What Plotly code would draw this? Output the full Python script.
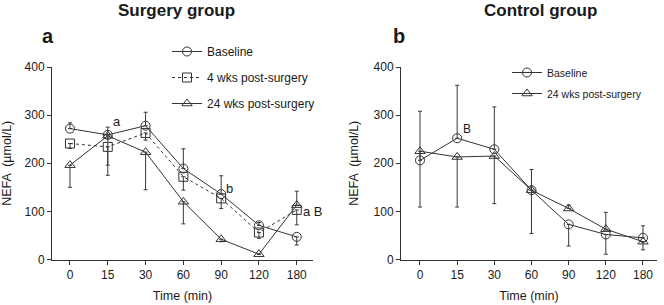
import plotly.graph_objects as go
from plotly.subplots import make_subplots

time_labels = ["0", "15", "30", "60", "90", "120", "180"]

# Surgery group (panel a)
s_base = [272, 259, 278, 189, 136, 71, 47]
s_base_up = [12, 16, 28, 41, 38, 6, 0]
s_base_dn = [0, 0, 0, 0, 0, 0, 17]

s_4wk = [241, 234, 263, 172, 127, 56, 103]
s_4wk_up = [0, 0, 0, 0, 0, 0, 0]
s_4wk_dn = [10, 38, 15, 28, 21, 12, 31]

s_24wk = [196, 257, 223, 120, 42, 11, 113]
s_24wk_up = [0, 0, 0, 0, 0, 0, 29]
s_24wk_dn = [46, 82, 78, 46, 5, 0, 0]

# Control group (panel b)
c_base = [206, 252, 229, 144, 73, 52, 45]
c_base_up = [102, 110, 88, 43, 0, 0, 25]
c_base_dn = [0, 0, 0, 0, 45, 41, 0]

c_24wk = [225, 213, 215, 144, 106, 63, 37]
c_24wk_up = [0, 0, 0, 0, 7, 35, 0]
c_24wk_dn = [116, 104, 99, 90, 0, 0, 17]

W, H = 664, 305
col = "#333333"
tcol = "#1a1a1a"
font = "Liberation Sans, Arial, sans-serif"

fig = make_subplots(rows=1, cols=2)
xi = list(range(len(time_labels)))


def add(y, up, dn, name, symbol, dash, c, legend):
    fig.add_trace(go.Scatter(
        x=xi, y=y, name=name, mode="lines+markers",
        line=dict(color=col, width=1, dash=dash),
        marker=dict(symbol=symbol, size=9, color=col, line=dict(width=1, color=col)),
        error_y=dict(type="data", symmetric=False, array=up, arrayminus=dn,
                     color="#3a3a3a", thickness=1, width=2),
        legend=legend, legendgroup=name + legend,
    ), row=1, col=c)


add(s_base, s_base_up, s_base_dn, "Baseline", "circle-open", "solid", 1, "legend")
add(s_4wk, s_4wk_up, s_4wk_dn, "4 wks post-surgery", "square-open", "dot", 1, "legend")
add(s_24wk, s_24wk_up, s_24wk_dn, "24 wks post-surgery", "triangle-up-open", "solid", 1, "legend")
add(c_base, c_base_up, c_base_dn, "Baseline", "circle-open", "solid", 2, "legend2")
add(c_24wk, c_24wk_up, c_24wk_dn, "24 wks post-surgery", "triangle-up-open", "solid", 2, "legend2")

ydom = [(H - 259.5) / H, (H - 67) / H]
axis_common = dict(showline=True, linecolor=col, linewidth=1, ticks="outside",
                   ticklen=4, tickcolor=col, showgrid=False, zeroline=False, automargin=False,
                   tickfont=dict(size=12, color=tcol, family=font))

fig.update_xaxes(**axis_common, tickvals=xi, ticktext=time_labels,
                 title=dict(text="Time (min)", font=dict(size=12.5, color=tcol, family=font), standoff=10))
fig.update_yaxes(**axis_common, range=[0, 400], tickvals=[0, 100, 200, 300, 400],
                 domain=ydom,
                 title=dict(text="NEFA  (µmol/L)", font=dict(size=12.5, color=tcol, family=font), standoff=12))
fig.update_xaxes(domain=[52 / W, 313 / W], range=[-0.476, 6.43], row=1, col=1)
fig.update_xaxes(domain=[401 / W, 657 / W], range=[-0.511, 6.377], row=1, col=2)

ann = []
def txt(x, y, t, xref, yref, size=12, bold=False, xanchor="left", xshift=0, yshift=0):
    ann.append(dict(x=x, y=y, text=("<b>%s</b>" % t) if bold else t, xref=xref, yref=yref,
                    showarrow=False, xanchor=xanchor, yanchor="middle", xshift=xshift, yshift=yshift,
                    font=dict(size=size, color=tcol, family=font)))

txt(176 / W, 1 - 11 / H, "Surgery group", "paper", "paper", size=17, bold=True, xanchor="center")
txt(540 / W, 1 - 11 / H, "Control group", "paper", "paper", size=17, bold=True, xanchor="center")
txt(48 / W, 1 - 36 / H, "a", "paper", "paper", size=20, bold=True, xanchor="center")
txt(399 / W, 1 - 36 / H, "b", "paper", "paper", size=20, bold=True, xanchor="center")
txt(1, s_base[1], "a", "x", "y", size=13, xshift=3, yshift=13)
txt(4, s_base[4], "b", "x", "y", size=13, xshift=3, yshift=6)
txt(6, s_4wk[6], "a B", "x", "y", size=13, xshift=4, yshift=-2)
txt(1, c_base[1], "B", "x2", "y2", size=12, xshift=4, yshift=9)

fig.update_layout(
    width=W, height=H, margin=dict(l=0, r=0, t=0, b=0),
    paper_bgcolor="white", plot_bgcolor="white",
    font=dict(family=font, size=12, color=tcol),
    annotations=ann,
    legend=dict(x=167 / W, y=1 - 37 / H, xanchor="left", yanchor="top", tracegroupgap=7,
                font=dict(size=12, color=tcol), bgcolor="rgba(0,0,0,0)", itemwidth=30),
    legend2=dict(x=507 / W, y=1 - 58 / H, xanchor="left", yanchor="top", tracegroupgap=2,
                 font=dict(size=10.5, color=tcol), bgcolor="rgba(0,0,0,0)", itemwidth=30),
)

fig.write_html("out.html", config={"displayModeBar": False},
               post_script="document.body.style.margin='0';")
